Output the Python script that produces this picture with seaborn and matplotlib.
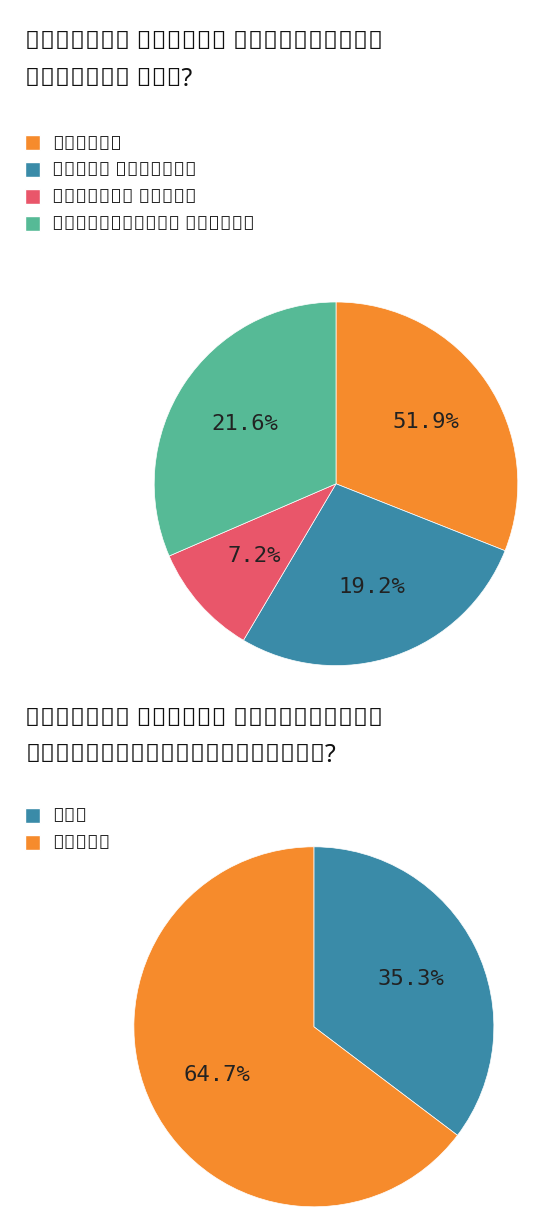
import matplotlib
matplotlib.use("Agg")
import matplotlib.pyplot as plt
import seaborn as sns
from matplotlib.patches import Patch

sns.set_theme(style="white")
plt.rcParams['font.family'] = ['Noto Sans', 'DejaVu Sans']

title1 = "நீங்கள் அதிகம் விரும்பும்\nமுதலீடு எது?"
labels1 = ["தங்கம்", "ரியல் எஸ்டேட்", "பங்குச் சந்தை", "மியூச்சுவல் ஃபண்ட்"]
pct_text1 = ["51.9%", "19.2%", "7.2%", "21.6%"]
# slice sizes as drawn in the reference (they differ from the printed labels)
slices1 = [31.0, 27.5, 10.0, 31.5]
colors1 = ["#F68B2C", "#3A8BA8", "#E9566A", "#56BA96"]

title2 = "நீங்கள் டேர்ம் இன்ஷூரன்ஸ்\nஎடுத்திருக்கிறீர்களா?"
labels2 = ["ஆம்", "இல்லை"]
pct_text2 = ["35.3%", "64.7%"]
slices2 = [35.3, 64.7]
colors2 = ["#3A8BA8", "#F68B2C"]

fig = plt.figure(figsize=(5.6, 12.08), dpi=100)

def draw(rect, slices, texts, colors, labels, title, ty, ly):
    ax = fig.add_axes(rect)
    wedges, _ = ax.pie(slices, colors=colors, startangle=90, counterclock=False,
                       wedgeprops=dict(linewidth=0.5, edgecolor="white"))
    import numpy as np
    for w, t in zip(wedges, texts):
        a = np.deg2rad((w.theta1 + w.theta2) / 2)
        ax.text(0.6 * np.cos(a), 0.6 * np.sin(a), t, ha="center", va="center",
                fontsize=16, color="#222222", family=["DejaVu Sans Mono"])
    ax.set_xlim(-1, 1)
    ax.set_ylim(-1, 1)
    ax.set_aspect("equal")
    ax.axis("off")
    fig.text(0.045, ty, title, fontsize=18, weight="bold", va="top", ha="left",
             color="#111111", linespacing=1.6)
    handles = [Patch(facecolor=c, label=l) for c, l in zip(colors, labels)]
    fig.legend(handles=handles, loc="upper left", bbox_to_anchor=(0.03, ly),
               frameon=False, fontsize=14, handlelength=0.8, handleheight=0.8,
               labelspacing=0.35, handletextpad=0.6, borderaxespad=0)

draw([0.275, 0.449, 0.65, 0.301], slices1, pct_text1, colors1, labels1, title1, 0.975, 0.895)
draw([0.239, 0.001, 0.643, 0.298], slices2, pct_text2, colors2, labels2, title2, 0.415, 0.338)

fig.savefig("out.png", dpi=100, facecolor="white")
